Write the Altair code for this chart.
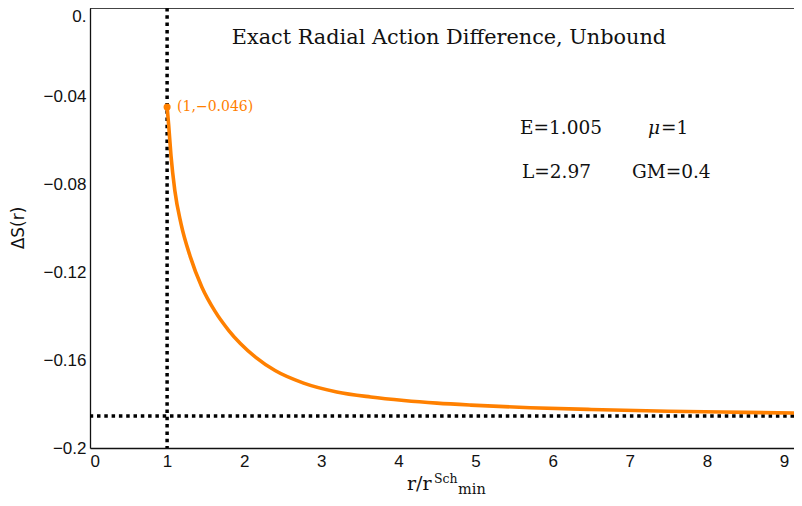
import altair as alt
import pandas as pd

# ---- data ----
r_vals = [1.0, 1.02, 1.05, 1.10, 1.18, 1.30, 1.45, 1.62, 1.80, 1.95, 2.15, 2.40,
          2.77, 3.20, 3.64, 4.07, 4.50, 4.94, 5.71, 6.50, 7.50, 8.50, 9.13]
dS_vals = [-0.045, -0.053, -0.067, -0.083, -0.098, -0.113, -0.1268, -0.1378, -0.1466,
           -0.1525, -0.1588, -0.1648, -0.1705, -0.1745, -0.1768, -0.1784, -0.1796,
           -0.1805, -0.1817, -0.1825, -0.1833, -0.1838, -0.1841]
r_min = [1.0]
asymptote = [-0.1855]
start_point = {"r": [1.0], "dS": [-0.045], "label": ["(1,\u22120.046)"]}
x_ticks = [0, 1, 2, 3, 4, 5, 6, 7, 8, 9]
y_ticks = [0, -0.04, -0.08, -0.12, -0.16, -0.2]
x_domain = [0, 9.13]
y_domain = [-0.2, 0]

title_text = ["Exact Radial Action Difference, Unbound"]
param_text = ["E=1.005", "\u03bc", "=1", "L=2.97", "GM=0.4"]
param_style = ["normal", "italic", "normal", "normal", "normal"]

ORANGE = "#ff8000"
SERIF = "DejaVu Serif"
SANS = "Liberation Sans"
INK = "#111111"

curve_df = pd.DataFrame({"r": r_vals, "dS": dS_vals})

xs = alt.Scale(domain=x_domain, nice=False, zero=False)
ys = alt.Scale(domain=y_domain, nice=False, zero=False)

x_axis = alt.Axis(values=x_ticks, format="d", title=None, labelFont=SANS, labelFontSize=17,
                  labelColor=INK, ticks=False, grid=False, labelPadding=5,
                  domainColor=INK, domainWidth=1.3)
y_axis = alt.Axis(values=y_ticks, title=None, labelFont=SANS, labelFontSize=17,
                  labelColor=INK, ticks=False, grid=False, labelPadding=4,
                  domainColor=INK, domainWidth=1.3,
                  labelExpr="datum.value == 0 ? '0.' : format(datum.value, '.2~f')",
                  labelOffset={"condition": {"test": "datum.value == 0", "value": 8}, "value": 0})

curve = alt.Chart(curve_df).mark_line(color=ORANGE, strokeWidth=3.6, interpolate="monotone",
                                      clip=True).encode(
    x=alt.X("r:Q", scale=xs, axis=x_axis),
    y=alt.Y("dS:Q", scale=ys, axis=y_axis),
)

vline = alt.Chart(pd.DataFrame({"r": r_min})).mark_rule(
    color="black", strokeWidth=3.5, strokeDash=[3.5, 3.8]).encode(
    x=alt.X("r:Q", scale=xs))

hline = alt.Chart(pd.DataFrame({"dS": asymptote})).mark_rule(
    color="black", strokeWidth=3.5, strokeDash=[3.5, 3.8]).encode(
    y=alt.Y("dS:Q", scale=ys))

top_border = alt.Chart(pd.DataFrame({"dS": [y_domain[1]]})).mark_rule(
    color=INK, strokeWidth=1.3).encode(y=alt.Y("dS:Q", scale=ys))

pt_df = pd.DataFrame(start_point)
point = alt.Chart(pt_df).mark_circle(color=ORANGE, size=50, opacity=1).encode(
    x=alt.X("r:Q", scale=xs), y=alt.Y("dS:Q", scale=ys))
point_label = alt.Chart(pt_df).mark_text(
    color=ORANGE, font=SERIF, fontSize=14, align="left", baseline="middle", dx=10).encode(
    x=alt.X("r:Q", scale=xs), y=alt.Y("dS:Q", scale=ys), text="label:N")

title = alt.Chart(pd.DataFrame({"t": title_text})).mark_text(
    font=SERIF, fontSize=20.8, align="center", baseline="alphabetic", color=INK).encode(
    x=alt.value(359), y=alt.value(36), text="t:N")

p_px = [430, 558, 571, 432, 542]
p_py = [126, 126, 126, 170, 170]
params = []
for i in range(len(param_text)):
    params.append(alt.Chart(pd.DataFrame({"t": [param_text[i]]})).mark_text(
        font=SERIF, fontSize=18.5, align="left", baseline="alphabetic", color=INK,
        fontStyle=param_style[i]).encode(
        x=alt.value(p_px[i]), y=alt.value(p_py[i]), text="t:N"))

ytitle = alt.Chart(pd.DataFrame({"t": ["\u0394S(r)"]})).mark_text(
    font="DejaVu Sans", fontSize=17, angle=270, align="center", baseline="middle", color=INK).encode(
    x=alt.value(-71), y=alt.value(220), text="t:N")

xt_main = alt.Chart(pd.DataFrame({"t": ["r/r"]})).mark_text(
    font=SERIF, fontSize=19, align="left", baseline="alphabetic", color=INK).encode(
    x=alt.value(317), y=alt.value(482), text="t:N")
xt_sup = alt.Chart(pd.DataFrame({"t": ["Sch"]})).mark_text(
    font=SERIF, fontSize=12.5, align="left", baseline="alphabetic", color=INK).encode(
    x=alt.value(344), y=alt.value(475), text="t:N")
xt_sub = alt.Chart(pd.DataFrame({"t": ["min"]})).mark_text(
    font=SERIF, fontSize=14.5, align="left", baseline="alphabetic", color=INK).encode(
    x=alt.value(368), y=alt.value(486), text="t:N")

chart = alt.layer(
    vline, hline, top_border, curve, point, point_label, title, *params,
    ytitle, xt_main, xt_sup, xt_sub
).properties(
    width=704, height=440, autosize="none",
    padding={"left": 82, "top": 0, "right": 0, "bottom": 50},
).configure_view(stroke=None).configure(background="white")

chart.save("out.html", embed_options={"renderer": "svg", "actions": False})
